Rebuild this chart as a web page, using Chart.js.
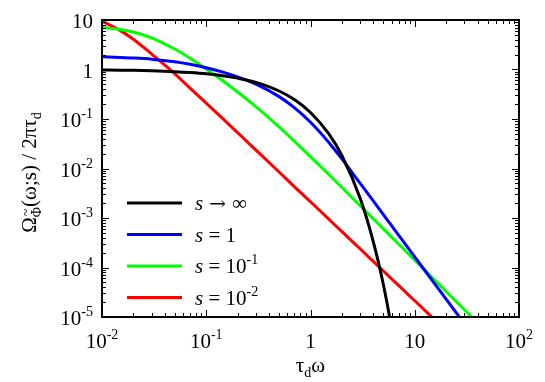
<!DOCTYPE html>
<html>
<head>
<meta charset="utf-8">
<script src="https://cdn.jsdelivr.net/npm/chart.js@4.4.1/dist/chart.umd.min.js"></script>
<style>
  html, body { margin: 0; padding: 0; background: #fff; }
</style>
</head>
<body>
<canvas id="spectrum_Chart" width="545" height="382"></canvas>
<script>
// tau_d * omega sample points (shared by all curves)
const TAU_OMEGA = [0.01, 0.015, 0.02, 0.03, 0.05, 0.07, 0.1, 0.15, 0.2, 0.3, 0.5, 0.7,
  1, 1.5, 2, 3, 4, 5, 6, 7, 10, 15, 20, 30, 40];

// Omega_Phi(omega;s) / 2 pi tau_d
const S_INF = [0.98, 0.97, 0.961, 0.942, 0.905, 0.869, 0.819, 0.741, 0.67, 0.549, 0.368, 0.247,
  0.135, 0.0498, 0.0183, 2.48e-3, 3.35e-4, 4.54e-5, 6.1e-6, null, null, null, null, null, null];
const S_1 = [1.8, 1.752, 1.708, 1.617, 1.43, 1.272, 1.087, 0.864, 0.71, 0.505, 0.283, 0.1695,
  0.0859, 0.0336, 0.0156, 4.99e-3, 2.21e-3, 1.17e-3, 6.98e-4, 4.5e-4, 1.64e-4, 5.18e-5, 2.29e-5, 7.23e-6, null];
const S_01 = [7.08, 6.44, 5.73, 4.37, 2.59, 1.69, 1.026, 0.557, 0.352, 0.178, 0.0692, 0.0358,
  0.01742, 7.55e-3, 4.14e-3, 1.77e-3, 9.66e-4, 6.04e-4, 4.12e-4, 2.98e-4, 1.41e-4, 6.0e-5, 3.28e-5, 1.4e-5, 7.64e-6];
const S_001 = [9.5, 6.1, 4.1, 2.05, 0.82, 0.42, 0.21, 0.094, 0.053, 0.0236, 8.5e-3, 4.3e-3,
  2.13e-3, 9.5e-4, 5.3e-4, 2.37e-4, 1.33e-4, 8.5e-5, 5.9e-5, 4.35e-5, 2.13e-5, 9.5e-6, null, null, null];

const X_TICKS = [0.01, 0.1, 1, 10, 100];
const X_TICK_LABELS = [["10", "-2"], ["10", "-1"], ["1", ""], ["10", ""], ["10", "2"]];
const Y_TICKS = [1e-5, 1e-4, 1e-3, 1e-2, 1e-1, 1, 10];
const Y_TICK_LABELS = [["10", "-5"], ["10", "-4"], ["10", "-3"], ["10", "-2"], ["10", "-1"], ["1", ""], ["10", ""]];

// legend: text after the italic "s", and its superscript
const LEGEND_TEXT = ["\u2192", " = 1", " = 10", " = 10"];
const LEGEND_SUP = ["", "", "-1", "-2"];
const COLORS = ["#000000", "#0000ff", "#00ff00", "#ff0000"];

const SERIF = "'Liberation Serif', 'DejaVu Serif', serif";
const BIG = "21px " + SERIF;
const SMALL = "14px " + SERIF;

function toPoints(ys) {
  return TAU_OMEGA.map((x, i) => ({ x: x, y: ys[i] })).filter((p) => p.y != null);
}

// base text plus a raised superscript; align = "left" | "center" | "right"
function drawSup(ctx, base, sup, x, y, align) {
  ctx.font = BIG;
  const wb = ctx.measureText(base).width;
  ctx.font = SMALL;
  const ws = sup ? ctx.measureText(sup).width : 0;
  const w = wb + ws;
  let x0 = x;
  if (align === "center") x0 = x - w / 2;
  if (align === "right") x0 = x - w;
  ctx.textAlign = "left";
  ctx.font = BIG;
  ctx.fillText(base, x0, y);
  if (sup) {
    ctx.font = SMALL;
    ctx.fillText(sup, x0 + wb, y - 9);
  }
}

const framePlugin = {
  id: "frame",
  afterDatasetsDraw(chart) {
    const { ctx, chartArea: a, scales } = chart;
    const xs = scales.x;
    const ys = scales.y;
    ctx.save();
    ctx.strokeStyle = "#000";
    ctx.fillStyle = "#000";

    // inward ticks on all four sides
    ctx.lineWidth = 1;
    ctx.beginPath();
    for (let e = -2; e <= 1; e++) {
      for (let m = 1; m <= 9; m++) {
        const v = m * Math.pow(10, e);
        const px = Math.round(xs.getPixelForValue(v)) + 0.5;
        const len = m === 1 ? 7 : 4;
        ctx.moveTo(px, a.bottom); ctx.lineTo(px, a.bottom - len);
        ctx.moveTo(px, a.top); ctx.lineTo(px, a.top + len);
      }
    }
    for (let e = -5; e <= 0; e++) {
      for (let m = 1; m <= 9; m++) {
        const v = m * Math.pow(10, e);
        const py = Math.round(ys.getPixelForValue(v)) + 0.5;
        const len = m === 1 ? 7 : 4;
        ctx.moveTo(a.left, py); ctx.lineTo(a.left + len, py);
        ctx.moveTo(a.right, py); ctx.lineTo(a.right - len, py);
      }
    }
    ctx.stroke();

    ctx.lineWidth = 2;
    ctx.strokeRect(a.left, a.top, a.width, a.height);

    // tick labels
    ctx.textBaseline = "alphabetic";
    X_TICKS.forEach((v, i) => {
      drawSup(ctx, X_TICK_LABELS[i][0], X_TICK_LABELS[i][1], xs.getPixelForValue(v), a.bottom + 31, "center");
    });
    Y_TICKS.forEach((v, i) => {
      drawSup(ctx, Y_TICK_LABELS[i][0], Y_TICK_LABELS[i][1], a.left - 9, ys.getPixelForValue(v) + 8, "right");
    });

    // x title: tau_d omega
    ctx.font = BIG;
    const wt = ctx.measureText("\u03c4").width;
    const ww = ctx.measureText("\u03c9").width;
    ctx.font = SMALL;
    const wd = ctx.measureText("d").width;
    const tx = (a.left + a.right) / 2 - (wt + wd + ww) / 2;
    const ty = a.bottom + 55;
    ctx.textAlign = "left";
    ctx.font = BIG;
    ctx.fillText("\u03c4", tx, ty);
    ctx.font = SMALL;
    ctx.fillText("d", tx + wt, ty + 5);
    ctx.font = BIG;
    ctx.fillText("\u03c9", tx + wt + wd, ty);

    // y title: Omega_{~Phi}(omega;s) / 2 pi tau_d
    const parts = [
      ["\u03a9", BIG, 0],
      ["\u03a6", SMALL, 5],
      ["(\u03c9;s) / 2\u03c0\u03c4", BIG, 0],
      ["d", SMALL, 5],
    ];
    let total = 0;
    parts.forEach((p) => { ctx.font = p[1]; p.push(ctx.measureText(p[0]).width); total += p[3]; });
    ctx.translate(36, (a.top + a.bottom) / 2 + 4);
    ctx.rotate(-Math.PI / 2);
    let cx = -total / 2;
    parts.forEach((p, i) => {
      ctx.font = p[1];
      ctx.fillText(p[0], cx, p[2]);
      if (i === 1) {
        ctx.font = SMALL;
        ctx.fillText("~", cx + 1, -5);
      }
      cx += p[3];
    });
    ctx.setTransform(1, 0, 0, 1, 0, 0);

    // legend inside plot
    chart.data.datasets.forEach((ds, i) => {
      const ly = a.top + 183 + i * 31.5;
      ctx.strokeStyle = ds.borderColor;
      ctx.lineWidth = 3;
      ctx.beginPath();
      ctx.moveTo(a.left + 25, ly);
      ctx.lineTo(a.left + 80, ly);
      ctx.stroke();
      ctx.fillStyle = "#000";
      ctx.textAlign = "left";
      const lx = a.left + 93;
      ctx.font = "italic " + BIG;
      ctx.fillText("s", lx, ly + 7);
      const wsx = ctx.measureText("s").width;
      if (i === 0) {
        // s -> infinity, arrow drawn in a font with a long arrow glyph
        ctx.font = "20px 'DejaVu Serif', serif";
        ctx.fillText(LEGEND_TEXT[i], lx + wsx + 6, ly + 7);
        const wa = ctx.measureText(LEGEND_TEXT[i]).width;
        ctx.font = BIG;
        ctx.fillText("\u221e", lx + wsx + 12 + wa, ly + 7);
      } else {
        drawSup(ctx, LEGEND_TEXT[i], LEGEND_SUP[i], lx + wsx, ly + 7, "left");
      }
    });
    ctx.restore();
  },
};

function initChart() {
  const ctx = document.getElementById("spectrum_Chart").getContext("2d");
  const series = [S_INF, S_1, S_01, S_001];
  const names = ["s \u2192 \u221e", "s = 1", "s = 10^-1", "s = 10^-2"];
  new Chart(ctx, {
    type: "line",
    data: {
      datasets: series.map((ys, i) => ({
        label: names[i],
        data: toPoints(ys),
        borderColor: COLORS[i],
        borderWidth: 3,
        pointRadius: 0,
        fill: false,
        cubicInterpolationMode: "monotone",
        clip: 0,
      })),
    },
    options: {
      responsive: false,
      devicePixelRatio: 1,
      animation: false,
      layout: { padding: { left: 102, right: 26, top: 20, bottom: 65 } },
      plugins: { legend: { display: false }, tooltip: { enabled: false } },
      scales: {
        x: { type: "logarithmic", min: 0.01, max: 100, display: false },
        y: { type: "logarithmic", min: 1e-5, max: 10, display: false },
      },
    },
    plugins: [framePlugin],
  });
}

window.onload = initChart;
</script>
</body>
</html>
